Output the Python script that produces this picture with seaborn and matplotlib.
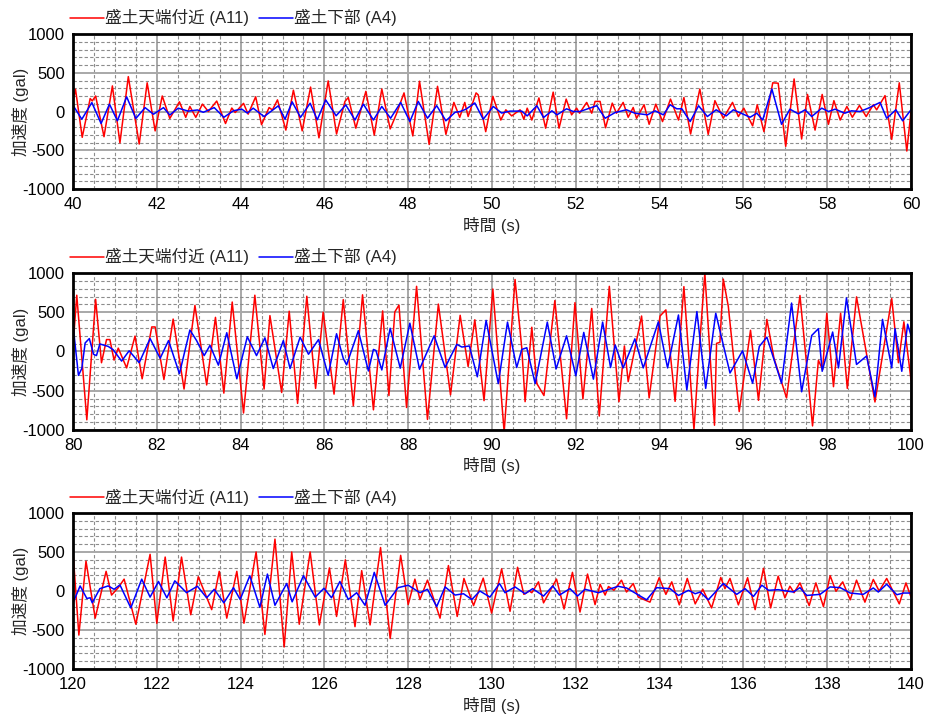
import matplotlib
matplotlib.use("Agg")
import matplotlib.pyplot as plt
from matplotlib.ticker import MultipleLocator
import seaborn as sns
import pandas as pd

# ---------------- data ----------------
label_a11 = "盛土天端付近 (A11)"
label_a4 = "盛土下部 (A4)"
x_label = "時間 (s)"
y_label = "加速度 (gal)"
y_ticks = [-1000, -500, 0, 500, 1000]

# Panel 1 : 40-60 s
p1_t_a11 = [40.0, 40.06, 40.22, 40.41, 40.46, 40.54, 40.74, 40.94, 41.12, 41.32, 41.58, 41.77, 41.96, 42.13, 42.31,
            42.54, 42.69, 42.79, 42.93, 43.09, 43.23, 43.43, 43.64, 43.79, 43.87, 44.07, 44.18, 44.36, 44.5, 44.68,
            44.76, 44.88, 45.08, 45.26, 45.47, 45.67, 45.87, 46.09, 46.29, 46.49, 46.57, 46.75, 46.99, 47.19, 47.37,
            47.57, 47.72, 47.9, 48.11, 48.27, 48.5, 48.7, 48.9, 49.09, 49.23, 49.35, 49.43, 49.62, 49.67, 49.85,
            50.02, 50.21, 50.33, 50.47, 50.67, 50.76, 50.84, 50.95, 51.12, 51.28, 51.46, 51.6, 51.77, 51.9, 52.02,
            52.09, 52.26, 52.38, 52.46, 52.58, 52.71, 52.87, 52.97, 53.13, 53.25, 53.37, 53.45, 53.63, 53.75, 53.91,
            54.07, 54.26, 54.45, 54.58, 54.74, 54.96, 55.16, 55.32, 55.52, 55.74, 55.88, 56.01, 56.22, 56.33, 56.49,
            56.7, 56.83, 57.01, 57.21, 57.39, 57.53, 57.71, 57.88, 58.03, 58.16, 58.31, 58.47, 58.6, 58.77, 58.93,
            59.1, 59.18, 59.38, 59.54, 59.72, 59.9, 60.0]
p1_v_a11 = [135, 286, -333, 167, 137, 200, -325, 330, -405, 450, -420, 370, -250, 200, -90,
            125, -75, 65, -75, 95, 0, 135, -155, 45, -13, 105, -34, 190, -170, 51,
            20, 150, -240, 275, -250, 315, -340, 395, -290, 130, 180, -215, 260, -305, 290,
            -225, -30, 240, -315, 390, -425, 325, -295, 117, -75, 117, -65, 240, 215, -260,
            195, -110, 22, -57, 22, -100, 43, -110, 175, -215, 250, -215, 160, -43, 43,
            -22, 117, -22, 130, 130, -210, 108, -22, 117, -74, 52, -87, 87, -165, 95,
            -130, 160, -110, 180, -290, 290, -295, 140, -87, 117, -65, 43, -185, 87, -260,
            370, 365, -450, 420, -355, 220, -240, 220, -165, 140, -110, 65, -74, 78, -65,
            87, 22, 205, -360, 370, -510, 0]

p1_t_a4 = [40.0, 40.21, 40.45, 40.67, 40.87, 41.06, 41.28, 41.5, 41.72, 41.92, 42.16, 42.31, 42.51, 42.75, 42.97,
           43.11, 43.37, 43.6, 43.83, 44.03, 44.16, 44.3, 44.56, 44.9, 45.06, 45.23, 45.43, 45.66, 45.83, 46.03,
           46.28, 46.51, 46.73, 46.93, 47.17, 47.37, 47.58, 47.82, 48.04, 48.24, 48.46, 48.68, 48.9, 49.12, 49.24,
           49.38, 49.59, 49.79, 50.03, 50.23, 50.43, 50.71, 50.84, 51.07, 51.23, 51.43, 51.55, 51.78, 51.94, 52.1,
           52.5, 52.7, 52.94, 53.21, 53.41, 53.71, 53.89, 54.09, 54.25, 54.41, 54.53, 54.73, 54.93, 55.14, 55.35,
           55.59, 55.76, 56.16, 56.32, 56.46, 56.68, 56.91, 57.11, 57.31, 57.47, 57.63, 57.87, 58.03, 58.19, 58.42,
           58.58, 58.78, 58.98, 59.26, 59.42, 59.64, 59.8, 60.0]
p1_v_a4 = [80, -100, 115, -155, 95, -120, 190, -90, 50, -35, 50, -45, 43, 5, 20,
           -10, 50, -75, 10, 30, -20, 43, -65, 73, -100, 125, -75, 107, -107, 150,
           -55, 85, -110, 95, -110, 65, -87, 117, -130, 130, -87, 75, -120, -10, 0,
           30, 110, -100, 65, -20, 5, 5, -57, 75, -78, 9, -43, 35, 0, 0,
           75, -87, -13, 22, -22, -43, 9, -43, 87, 35, 35, -130, 74, -65, 22,
           -57, 22, -74, -22, -110, 290, -165, 30, -30, 22, -65, 43, 0, 30, -22,
           9, 0, 43, 117, -87, 22, -120, 22]

# Panel 2 : 80-100 s
p2_t_a11 = [80.0, 80.09, 80.33, 80.54, 80.68, 80.8, 80.88, 80.98, 81.08, 81.28, 81.48, 81.65, 81.88, 81.96, 82.17,
            82.39, 82.65, 82.91, 83.19, 83.4, 83.6, 83.8, 84.07, 84.34, 84.56, 84.7, 84.98, 85.16, 85.36, 85.58,
            85.79, 85.97, 86.23, 86.45, 86.69, 86.91, 87.17, 87.39, 87.54, 87.68, 87.78, 87.96, 88.2, 88.46, 88.72,
            89.01, 89.24, 89.43, 89.59, 89.81, 90.02, 90.29, 90.55, 90.71, 90.79, 90.95, 91.07, 91.24, 91.5, 91.78,
            91.98, 92.17, 92.38, 92.56, 92.8, 93.03, 93.16, 93.25, 93.57, 93.75, 94.01, 94.15, 94.37, 94.58, 94.82,
            94.95, 95.08, 95.31, 95.36, 95.44, 95.52, 95.64, 95.9, 96.17, 96.36, 96.56, 96.73, 97.03, 97.35, 97.65,
            97.79, 97.89, 97.99, 98.15, 98.32, 98.48, 98.7, 99.14, 99.54, 99.7, 99.83, 100.0]
p2_v_a11 = [65, 717, -870, 665, -143, 152, 152, -109, 43, -209, 196, -348, 313, 313, -357,
            413, -478, 587, -426, 435, -530, 630, -783, 717, -478, 457, -522, 513, -661, 704,
            -470, 500, -543, 661, -691, 722, -743, 517, -561, 504, 591, -713, 830, -865, 604,
            -552, 461, -191, 404, -626, 796, -1026, 917, 48, -639, 309, -409, -561, 648, -857,
            622, -604, 548, -822, 830, -639, 70, -383, 452, -591, 452, 530, -635, 826, -1000,
            52, 1000, -939, 104, 117, 922, 574, -765, 270, -622, 409, -87, -591, 713, -948,
            -113, -230, 487, -448, 487, -470, 696, -643, 674, -143, 378, -360]

p2_t_a4 = [80.0, 80.13, 80.21, 80.29, 80.39, 80.49, 80.56, 80.64, 80.84, 80.96, 81.16, 81.34, 81.58, 81.84, 82.08,
           82.28, 82.54, 82.79, 82.95, 83.13, 83.27, 83.47, 83.67, 83.91, 84.16, 84.38, 84.58, 84.78, 85.02, 85.18,
           85.42, 85.62, 85.86, 86.09, 86.29, 86.45, 86.53, 86.81, 87.05, 87.17, 87.23, 87.37, 87.57, 87.81, 88.04,
           88.27, 88.62, 88.88, 89.16, 89.28, 89.46, 89.65, 89.86, 90.15, 90.37, 90.59, 90.71, 90.83, 91.03, 91.32,
           91.53, 91.78, 92.0, 92.19, 92.42, 92.64, 92.83, 92.94, 93.13, 93.41, 93.61, 93.97, 94.19, 94.45, 94.65,
           94.89, 95.1, 95.34, 95.68, 95.98, 96.22, 96.38, 96.56, 96.91, 97.15, 97.39, 97.63, 97.79, 97.88, 98.13,
           98.27, 98.46, 98.7, 98.94, 99.14, 99.32, 99.54, 99.62, 99.78, 99.92, 100.0]
p2_v_a4 = [339, -304, -217, 109, 165, -35, -52, 96, 65, 22, -122, 9, -143, 165, -87,
           139, -283, 274, 139, -52, 78, -174, 239, -348, 187, -52, 174, -217, 139, -217,
           183, -35, 152, -304, 226, -87, -170, 265, -248, 26, 13, -235, 296, -213, 361,
           -226, 200, -204, 91, 57, 70, -322, 396, -409, 374, -204, 26, 48, -409, 374,
           -222, 200, -309, 243, -352, 374, -204, 83, -209, 161, -209, 378, -209, 465, -491,
           509, -470, 487, -274, 9, -404, 65, 183, -404, 617, -513, 204, 291, -252, 248,
           -209, 683, -165, -57, -578, 409, -209, 291, -252, 348, 204]

# Panel 3 : 120-140 s
p3_t_a11 = [120.0, 120.14, 120.31, 120.53, 120.79, 120.92, 121.08, 121.22, 121.5, 121.84, 122.0, 122.2, 122.39, 122.59,
            122.81, 122.99, 123.31, 123.49, 123.67, 123.91, 124.08, 124.37, 124.58, 124.82, 125.04, 125.22, 125.4,
            125.66, 125.88, 126.12, 126.29, 126.5, 126.73, 126.89, 127.09, 127.34, 127.57, 127.82, 128.0, 128.16,
            128.28, 128.46, 128.76, 128.96, 129.17, 129.33, 129.56, 129.79, 129.99, 130.23, 130.43, 130.61, 130.76,
            130.89, 130.95, 131.11, 131.23, 131.54, 131.72, 131.92, 132.1, 132.28, 132.46, 132.58, 132.7, 132.78,
            132.91, 133.09, 133.21, 133.37, 133.49, 133.77, 133.99, 134.15, 134.29, 134.47, 134.66, 134.85, 135.03,
            135.24, 135.46, 135.56, 135.68, 135.88, 136.1, 136.28, 136.48, 136.65, 136.83, 136.99, 137.11, 137.21,
            137.35, 137.57, 137.73, 137.91, 138.07, 138.21, 138.37, 138.55, 138.7, 138.9, 139.1, 139.24, 139.42,
            139.72, 139.88, 140.0]
p3_v_a11 = [500, -565, 383, -348, 252, -52, 43, 152, -426, 470, -413, 435, -383, 435,
            -304, 183, -239, 252, -348, 252, -413, 500, -557, 665, -717, 500, -426,
            500, -435, 296, -326, 400, -457, 261, -435, 557, -609, 457, -174, 152,
            -109, 139, -348, 326, -326, 161, -187, 165, -283, 283, -261, 304, -43,
            0, -22, 117, -152, 152, -230, 239, -270, 217, -174, 87, -52, 57,
            9, 139, -13, 96, -78, -143, 170, -43, 117, -178, 161, -165, 22,
            -217, 174, 30, 161, -178, 170, -239, 291, -217, 191, -87, 61, -22,
            104, -187, 104, -200, 196, -4, 117, -113, 139, -143, 148, 0, 161,
            -165, 104, -78]

p3_t_a4 = [120.0, 120.17, 120.33, 120.41, 120.46, 120.64, 120.84, 120.98, 121.12, 121.38, 121.64, 121.84, 122.04, 122.24,
           122.43, 122.71, 122.97, 123.19, 123.37, 123.6, 123.83, 123.99, 124.22, 124.46, 124.64, 124.82, 125.1,
           125.23, 125.5, 125.78, 125.99, 126.17, 126.37, 126.57, 126.77, 126.97, 127.19, 127.45, 127.76, 128.0,
           128.28, 128.46, 128.68, 128.88, 129.12, 129.32, 129.52, 129.71, 129.95, 130.18, 130.31, 130.55, 130.79,
           130.97, 131.23, 131.45, 131.61, 131.86, 132.04, 132.22, 132.54, 133.01, 133.21, 133.69, 133.93, 134.25,
           134.45, 134.69, 134.85, 134.97, 135.16, 135.52, 135.84, 136.04, 136.24, 136.44, 136.6, 136.83, 137.19,
           137.35, 137.51, 137.83, 138.07, 138.31, 138.55, 138.86, 139.1, 139.22, 139.42, 139.66, 139.82, 140.0]
p3_v_a4 = [-152, 65, -96, -87, -152, 30, 65, 22, 78, -217, 152, -78, 122, -87,
           130, -22, 61, -87, 22, -152, 43, -109, 196, -209, 217, -183, 96,
           -139, 196, -78, 35, -87, 122, -109, -22, -183, 239, -183, 43, 74,
           -22, 22, -200, 52, -52, -35, -109, 0, -78, 96, -22, 52, -35,
           30, -65, 65, -52, 30, -65, 22, -22, 60, 39, -113, 43, 30,
           -57, 9, -35, -13, -113, 96, -43, 30, -70, 74, 9, 17, -13,
           43, -57, -43, 52, 43, -26, -43, 39, -13, 87, -48, -26, -26]

panels = [
    (40, 60, p1_t_a11, p1_v_a11, p1_t_a4, p1_v_a4),
    (80, 100, p2_t_a11, p2_v_a11, p2_t_a4, p2_v_a4),
    (120, 140, p3_t_a11, p3_v_a11, p3_t_a4, p3_v_a4),
]

# ---------------- style ----------------
sns.set_style("white")
plt.rcParams["font.family"] = ["Liberation Sans", "Noto Sans CJK JP", "DejaVu Sans"]
plt.rcParams["axes.unicode_minus"] = False

fig = plt.figure(figsize=(9.25, 7.18), dpi=100)
W, H = 925.0, 718.0
ax_boxes = [(34, 189), (273, 430), (513, 669)]
left_px, right_px = 73, 911

for (x0, x1, ta, va, tb, vb), (top_px, bot_px) in zip(panels, ax_boxes):
    ax = fig.add_axes([left_px / W, 1 - bot_px / H, (right_px - left_px) / W, (bot_px - top_px) / H])
    df_a = pd.DataFrame({"t": ta, "v": va})
    df_b = pd.DataFrame({"t": tb, "v": vb})
    sns.lineplot(data=df_a, x="t", y="v", ax=ax, color="#ff0000", lw=1.1,
                 estimator=None, sort=False, label=label_a11,
                 solid_joinstyle="round", solid_capstyle="round")
    sns.lineplot(data=df_b, x="t", y="v", ax=ax, color="#0000ff", lw=1.1,
                 estimator=None, sort=False, label=label_a4,
                 solid_joinstyle="round", solid_capstyle="round")
    ax.set_xlim(x0, x1)
    ax.set_ylim(-1000, 1000)
    ax.xaxis.set_major_locator(MultipleLocator(2))
    ax.xaxis.set_minor_locator(MultipleLocator(0.5))
    ax.set_yticks(y_ticks)
    ax.yaxis.set_minor_locator(MultipleLocator(100))
    ax.grid(which="minor", color="#8c8c8c", lw=0.8, ls=(0, (3, 2)))
    ax.grid(which="major", color="#a8a8a8", lw=1.4, ls="-")
    ax.set_axisbelow(True)
    ax.tick_params(which="both", length=0, labelsize=12, pad=6, colors="black")
    for sp in ax.spines.values():
        sp.set_color("black")
        sp.set_linewidth(2.0)
    ax.set_xlabel(x_label, fontsize=12, labelpad=3)
    ax.set_ylabel(y_label, fontsize=12)
    ax.yaxis.set_label_coords(-0.053, 0.5)
    ax.legend(loc="lower left", bbox_to_anchor=(-0.012, 1.0), ncol=2, frameon=False,
              fontsize=12, handlelength=2.0, handletextpad=0.1, columnspacing=0.6,
              borderaxespad=0.15, borderpad=0.3)

fig.savefig("out.png", dpi=100)
